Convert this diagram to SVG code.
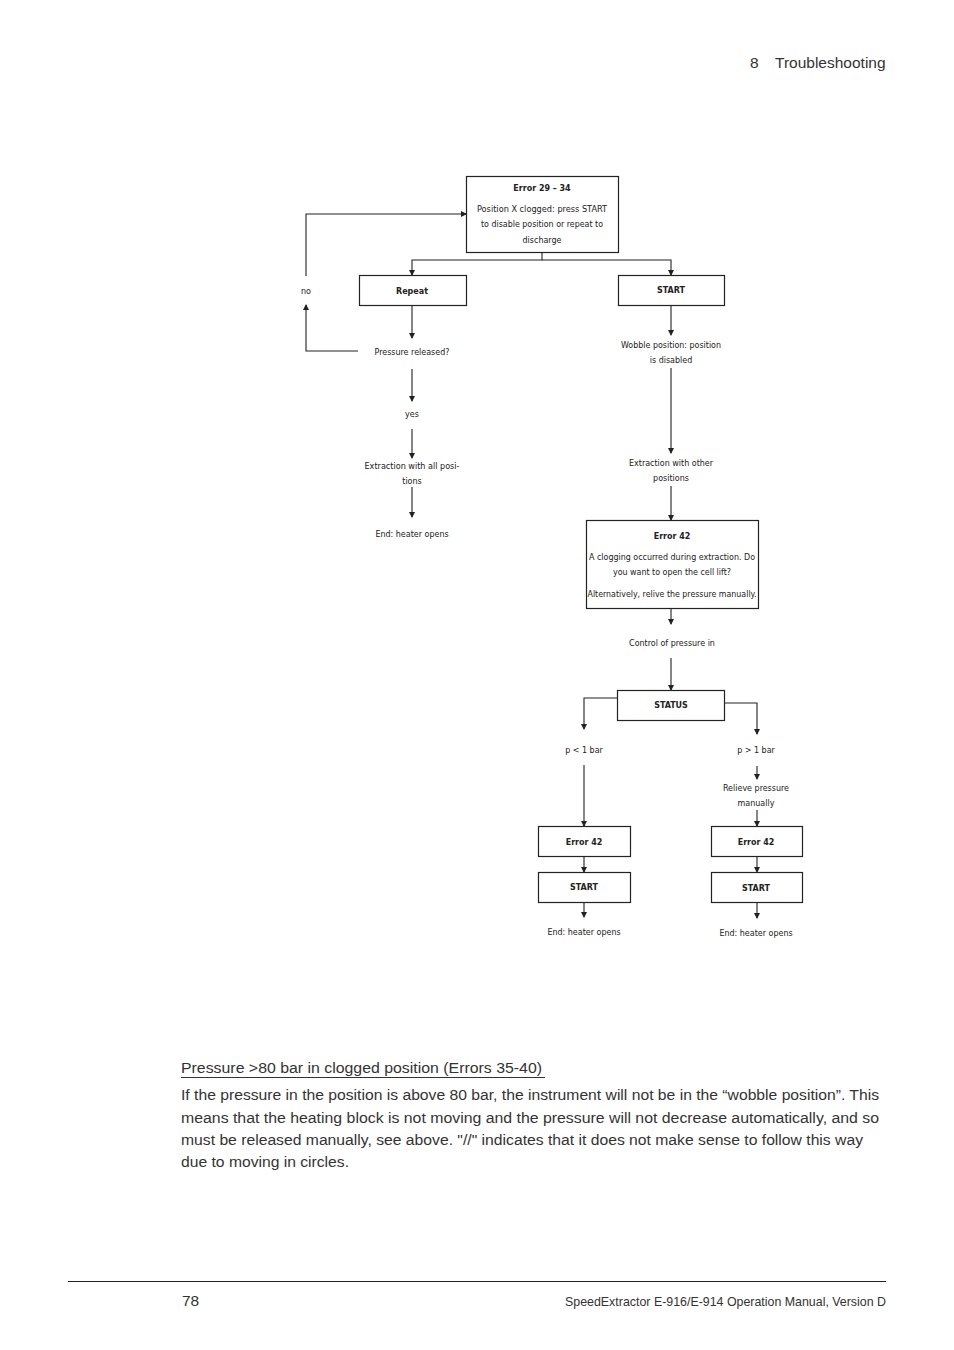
<svg xmlns="http://www.w3.org/2000/svg" width="954" height="1350" viewBox="0 0 954 1350">
<style>
.d{font-family:"Liberation Sans Narrow","DejaVu Sans Condensed","Liberation Sans",sans-serif;font-size:8.9px;fill:#222;text-anchor:middle}
.b{font-weight:bold}
.box{fill:#fff;stroke:#222;stroke-width:1.2}
.c{fill:none;stroke:#222;stroke-width:1.1}
.p{font-family:"Liberation Sans",Arial,sans-serif;font-size:15.5px;fill:#333}
.f{font-family:"Liberation Sans",Arial,sans-serif;font-size:12.4px;fill:#333;text-anchor:end}
</style>
<defs>
<marker id="ah" markerWidth="6" markerHeight="8" refX="5" refY="4" orient="auto" markerUnits="userSpaceOnUse" viewBox="0 0 6 8">
<path d="M0,1 L6,4 L0,7 Z" fill="#222"/>
</marker>
</defs>
<rect width="954" height="1350" fill="#fff"/>
<text class="p" x="750" y="68">8</text>
<text class="p" x="775" y="68">Troubleshooting</text>

<g id="connectors">
<path class="c" d="M542,252 V260 H412 V275" marker-end="url(#ah)"/>
<path class="c" d="M542,260 H671 V275" marker-end="url(#ah)"/>
<path class="c" d="M412,306 V338" marker-end="url(#ah)"/>
<path class="c" d="M358,351 H306 V305" marker-end="url(#ah)"/>
<path class="c" d="M306,276 V214 H466" marker-end="url(#ah)"/>
<path class="c" d="M412,369 V401" marker-end="url(#ah)"/>
<path class="c" d="M412,429 V458" marker-end="url(#ah)"/>
<path class="c" d="M412,487 V517" marker-end="url(#ah)"/>
<path class="c" d="M671,306 V335" marker-end="url(#ah)"/>
<path class="c" d="M671,368 V453" marker-end="url(#ah)"/>
<path class="c" d="M671,486 V520" marker-end="url(#ah)"/>
<path class="c" d="M671,609 V624" marker-end="url(#ah)"/>
<path class="c" d="M671,658 V690" marker-end="url(#ah)"/>
<path class="c" d="M617,698 H584 V729" marker-end="url(#ah)"/>
<path class="c" d="M724,703 H757 V734" marker-end="url(#ah)"/>
<path class="c" d="M584,765 V826" marker-end="url(#ah)"/>
<path class="c" d="M584,857 V872" marker-end="url(#ah)"/>
<path class="c" d="M584,903 V917" marker-end="url(#ah)"/>
<path class="c" d="M757,766 V779" marker-end="url(#ah)"/>
<path class="c" d="M757,810 V826" marker-end="url(#ah)"/>
<path class="c" d="M757,857 V872" marker-end="url(#ah)"/>
<path class="c" d="M757,903 V918" marker-end="url(#ah)"/>
</g>

<g id="n-error2934">
<rect class="box" x="466.5" y="176.5" width="152" height="76"/>
<text class="d b" x="542" y="191">Error 29 – 34</text>
<text class="d" x="542" y="212" textLength="130" lengthAdjust="spacingAndGlyphs">Position X clogged: press START</text>
<text class="d" x="542" y="227" textLength="122" lengthAdjust="spacingAndGlyphs">to disable position or repeat to</text>
<text class="d" x="542" y="243">discharge</text>
</g>
<g id="n-repeat">
<rect class="box" x="359.5" y="275.5" width="107" height="30"/>
<text class="d b" x="412" y="294">Repeat</text>
</g>
<g id="n-start1">
<rect class="box" x="618.5" y="275.5" width="106" height="30"/>
<text class="d b" x="671" y="293">START</text>
</g>
<g id="n-no"><text class="d" x="306" y="294">no</text></g>
<g id="n-released"><text class="d" x="412" y="355">Pressure released?</text></g>
<g id="n-yes"><text class="d" x="412" y="417">yes</text></g>
<g id="n-extall">
<text class="d" x="412" y="469" textLength="95" lengthAdjust="spacingAndGlyphs">Extraction with all posi-</text>
<text class="d" x="412" y="484">tions</text>
</g>
<g id="n-end1"><text class="d" x="412" y="537">End: heater opens</text></g>
<g id="n-wobble">
<text class="d" x="671" y="348" textLength="100" lengthAdjust="spacingAndGlyphs">Wobble position: position</text>
<text class="d" x="671" y="363">is disabled</text>
</g>
<g id="n-extother">
<text class="d" x="671" y="466">Extraction with other</text>
<text class="d" x="671" y="481">positions</text>
</g>
<g id="n-error42a">
<rect class="box" x="586.5" y="520.5" width="172" height="88"/>
<text class="d b" x="672" y="539">Error 42</text>
<text class="d" x="672" y="560" textLength="166" lengthAdjust="spacingAndGlyphs">A clogging occurred during extraction. Do</text>
<text class="d" x="672" y="575" textLength="118" lengthAdjust="spacingAndGlyphs">you want to open the cell lift?</text>
<text class="d" x="672" y="597" textLength="169" lengthAdjust="spacingAndGlyphs">Alternatively, relive the pressure manually.</text>
</g>
<g id="n-control"><text class="d" x="672" y="646">Control of pressure in</text></g>
<g id="n-status">
<rect class="box" x="617.5" y="690.5" width="107" height="30"/>
<text class="d b" x="671" y="708">STATUS</text>
</g>
<g id="n-plow"><text class="d" x="584" y="753">p &lt; 1 bar</text></g>
<g id="n-phigh"><text class="d" x="756" y="753">p &gt; 1 bar</text></g>
<g id="n-relieve">
<text class="d" x="756" y="791">Relieve pressure</text>
<text class="d" x="756" y="806">manually</text>
</g>
<g id="n-error42b">
<rect class="box" x="538.5" y="826.5" width="92" height="30"/>
<text class="d b" x="584" y="845">Error 42</text>
</g>
<g id="n-start2">
<rect class="box" x="538.5" y="872.5" width="92" height="30"/>
<text class="d b" x="584" y="890">START</text>
</g>
<g id="n-end2"><text class="d" x="584" y="935">End: heater opens</text></g>
<g id="n-error42c">
<rect class="box" x="711.5" y="826.5" width="91" height="30"/>
<text class="d b" x="756" y="845">Error 42</text>
</g>
<g id="n-start3">
<rect class="box" x="711.5" y="872.5" width="91" height="30"/>
<text class="d b" x="756" y="891">START</text>
</g>
<g id="n-end3"><text class="d" x="756" y="936">End: heater opens</text></g>

<text class="p" x="181" y="1073" textLength="361" lengthAdjust="spacingAndGlyphs">Pressure &gt;80 bar in clogged position (Errors 35-40)</text>
<line x1="181" y1="1077.5" x2="545" y2="1077.5" stroke="#333" stroke-width="1"/>
<text class="p" x="181" y="1100" textLength="698" lengthAdjust="spacingAndGlyphs">If the pressure in the position is above 80 bar, the instrument will not be in the “wobble position”. This</text>
<text class="p" x="181" y="1123" textLength="698" lengthAdjust="spacingAndGlyphs">means that the heating block is not moving and the pressure will not decrease automatically, and so</text>
<text class="p" x="181" y="1145" textLength="682" lengthAdjust="spacingAndGlyphs">must be released manually, see above. "//" indicates that it does not make sense to follow this way</text>
<text class="p" x="181" y="1167" textLength="168" lengthAdjust="spacingAndGlyphs">due to moving in circles.</text>

<line x1="68" y1="1281.5" x2="886" y2="1281.5" stroke="#222" stroke-width="1"/>
<text class="p" x="182" y="1306">78</text>
<text class="f" x="886" y="1306">SpeedExtractor E-916/E-914 Operation Manual, Version D</text>
</svg>
